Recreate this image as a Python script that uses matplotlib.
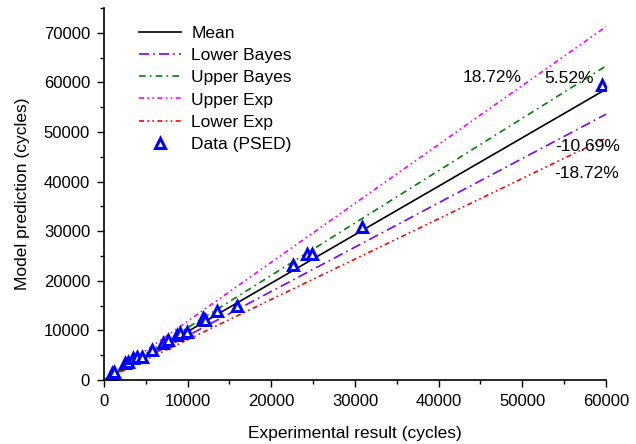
import matplotlib.pyplot as plt
import numpy as np

plt.rcParams['font.family'] = ['Liberation Sans', 'DejaVu Sans']

# Data
exp_cycles = [900, 1000, 1200, 2510, 2910, 3500, 3910, 4510, 5700, 7090, 7690,
              8700, 9090, 9890, 11880, 12080, 13480, 15870, 22650, 24240, 24840,
              30810, 59520]
pred_cycles = [1010, 1350, 1670, 3370, 3690, 4380, 4700, 4700, 6050, 7400, 8070,
               9080, 9420, 9740, 12450, 12100, 13980, 14930, 23200, 25420, 25420,
               30930, 59510]

mean_slope = 0.977
bayes_upper = 5.52   # %
bayes_lower = -10.69
exp_upper = 18.72
exp_lower = -18.72

x_line = np.array([0, 60000])

fig = plt.figure(figsize=(6.36, 4.44), dpi=100)
ax = fig.add_axes([0.1635, 0.1441, 0.7893, 0.8379])

ax.plot(x_line, mean_slope * x_line, color='black', lw=1.2, label='Mean')
ax.plot(x_line, (1 + bayes_lower / 100) * x_line, color='#8000ff', lw=1.2,
        ls=(0, (6, 2.5, 1, 2.5)), label='Lower Bayes')
ax.plot(x_line, (1 + bayes_upper / 100) * x_line, color='#008000', lw=1.2,
        ls=(0, (4, 2.5, 1, 2.5)), label='Upper Bayes')
ax.plot(x_line, (1 + exp_upper / 100) * x_line, color='#ff00ff', lw=1.2,
        ls=(0, (3, 2, 1, 2, 1, 2)), label='Upper Exp')
ax.plot(x_line, (1 + exp_lower / 100) * x_line, color='#ff0000', lw=1.2,
        ls=(0, (3, 2, 1, 2, 1, 2)), label='Lower Exp')
ax.plot(exp_cycles, pred_cycles, ls='none', marker='^', ms=7.5, mfc='white',
        mec='#0000ff', mew=2.2, label='Data (PSED)')

# Percent labels
ax.text(46400, 61000, f'{exp_upper:.2f}%', ha='center', va='center', fontsize=12.5)
ax.text(55600, 60700, f'{bayes_upper:.2f}%', ha='center', va='center', fontsize=12.5)
ax.text(57800, 47000, f'{bayes_lower:.2f}%', ha='center', va='center', fontsize=12.5)
ax.text(57700, 41700, f'{exp_lower:.2f}%', ha='center', va='center', fontsize=12.5)

ax.set_xlim(0, 60000)
ax.set_ylim(0, 75000)
ax.set_xticks(np.arange(0, 60001, 10000))
ax.set_yticks(np.arange(0, 70001, 10000))
ax.set_xticks(np.arange(0, 60001, 5000), minor=True)
ax.set_yticks(np.arange(0, 75001, 5000), minor=True)
ax.tick_params(which='major', direction='out', length=5, width=1, pad=5,
               labelsize=12)
ax.tick_params(which='minor', direction='out', length=3, width=1)
ax.spines['top'].set_visible(False)
ax.spines['right'].set_visible(False)
ax.spines['left'].set_linewidth(1.2)
ax.spines['bottom'].set_linewidth(1.2)

ax.set_xlabel('Experimental result (cycles)', fontsize=12.5, labelpad=12)
ax.set_ylabel('Model prediction (cycles)', fontsize=12.5, labelpad=10)

ax.legend(loc='upper left', bbox_to_anchor=(0.056, 0.97), borderaxespad=0,
          frameon=False, fontsize=12.5, handlelength=2.4, handletextpad=0.6,
          labelspacing=0.4)

plt.savefig('out.png')
